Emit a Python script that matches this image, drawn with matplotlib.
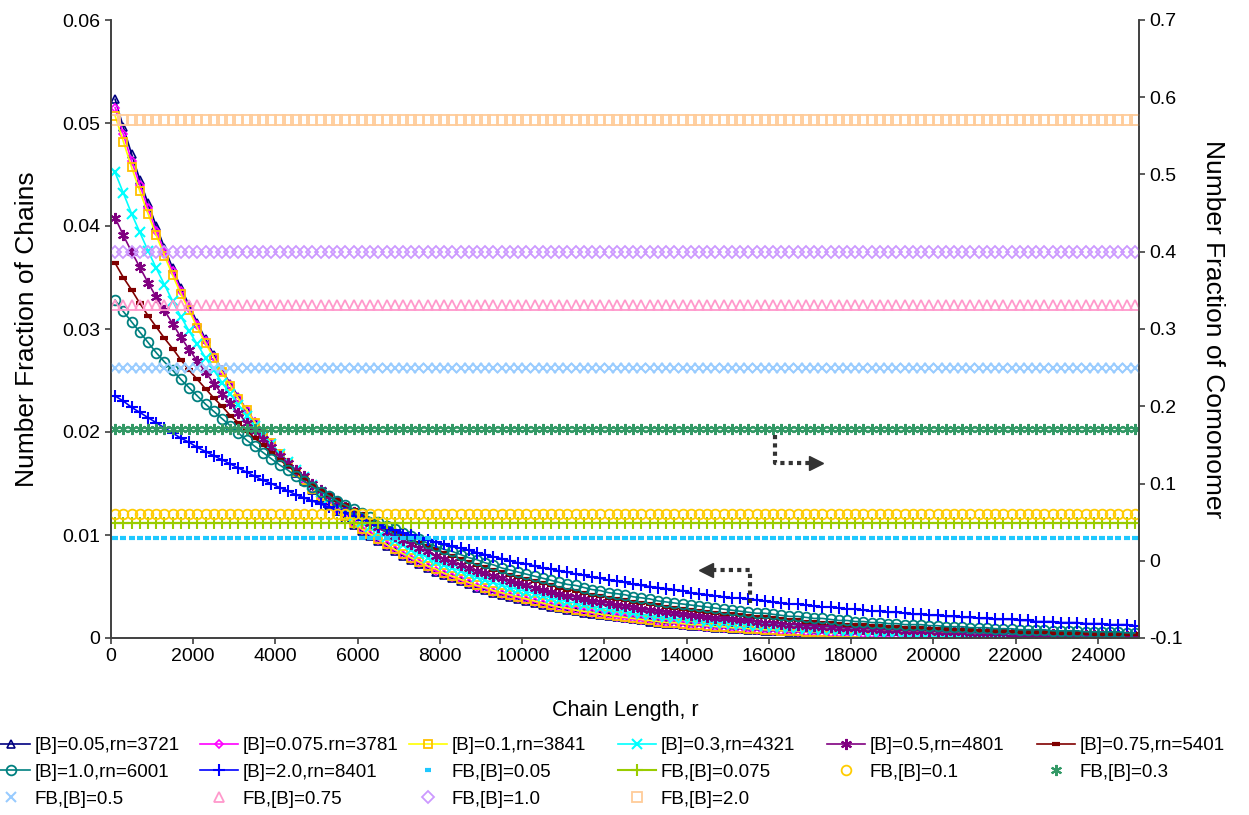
import matplotlib
matplotlib.use("Agg")
import matplotlib.pyplot as plt
import numpy as np

plt.rcParams['font.family'] = ['Liberation Sans', 'DejaVu Sans']
plt.rcParams['axes.unicode_minus'] = False

# chain length grid (one marker every 200)
chain_length = list(range(100, 25000, 200))

nf_005 = [0.0523, 0.0496, 0.0470, 0.0445, 0.0422, 0.0400, 0.0379, 0.0359, 0.0340, 0.0323,
          0.0306, 0.0290, 0.0275, 0.0260, 0.0247, 0.0234, 0.0221, 0.0210, 0.0199, 0.0188,
          0.0179, 0.0169, 0.0160, 0.0152, 0.0144, 0.0136, 0.0129, 0.0123, 0.0116, 0.0110,
          0.0104, 0.0099, 0.0094, 0.0089, 0.0084, 0.0080, 0.0076, 0.0072, 0.0068, 0.0064,
          0.0061, 0.0058, 0.0055, 0.0052, 0.0049, 0.0047, 0.0044, 0.0042, 0.0040, 0.0038,
          0.0036, 0.0034, 0.0032, 0.0030, 0.0029, 0.0027, 0.0026, 0.0024, 0.0023, 0.0022,
          0.0021, 0.0020, 0.0019, 0.0018, 0.0017, 0.0016, 0.0015, 0.0014, 0.0014, 0.0013,
          0.0012, 0.0012, 0.0011, 0.0010, 0.0010, 0.0009, 0.0009, 0.0008, 0.0008, 0.0007,
          0.0007, 0.0007, 0.0006, 0.0006, 0.0006, 0.0005, 0.0005, 0.0005, 0.0005, 0.0004,
          0.0004, 0.0004, 0.0004, 0.0004, 0.0003, 0.0003, 0.0003, 0.0003, 0.0003, 0.0003,
          0.0002, 0.0002, 0.0002, 0.0002, 0.0002, 0.0002, 0.0002, 0.0002, 0.0002, 0.0001,
          0.0001, 0.0001, 0.0001, 0.0001, 0.0001, 0.0001, 0.0001, 0.0001, 0.0001, 0.0001,
          0.0001, 0.0001, 0.0001, 0.0001, 0.0001]

nf_0075 = [0.0515, 0.0489, 0.0463, 0.0440, 0.0417, 0.0395, 0.0375, 0.0356, 0.0337, 0.0320,
           0.0304, 0.0288, 0.0273, 0.0259, 0.0246, 0.0233, 0.0221, 0.0210, 0.0199, 0.0189,
           0.0179, 0.0170, 0.0161, 0.0153, 0.0145, 0.0137, 0.0130, 0.0124, 0.0117, 0.0111,
           0.0105, 0.0100, 0.0095, 0.0090, 0.0085, 0.0081, 0.0077, 0.0073, 0.0069, 0.0065,
           0.0062, 0.0059, 0.0056, 0.0053, 0.0050, 0.0048, 0.0045, 0.0043, 0.0041, 0.0039,
           0.0037, 0.0035, 0.0033, 0.0031, 0.0030, 0.0028, 0.0027, 0.0025, 0.0024, 0.0023,
           0.0022, 0.0020, 0.0019, 0.0018, 0.0017, 0.0017, 0.0016, 0.0015, 0.0014, 0.0013,
           0.0013, 0.0012, 0.0011, 0.0011, 0.0010, 0.0010, 0.0009, 0.0009, 0.0008, 0.0008,
           0.0007, 0.0007, 0.0007, 0.0006, 0.0006, 0.0006, 0.0005, 0.0005, 0.0005, 0.0005,
           0.0004, 0.0004, 0.0004, 0.0004, 0.0004, 0.0003, 0.0003, 0.0003, 0.0003, 0.0003,
           0.0003, 0.0002, 0.0002, 0.0002, 0.0002, 0.0002, 0.0002, 0.0002, 0.0002, 0.0002,
           0.0002, 0.0001, 0.0001, 0.0001, 0.0001, 0.0001, 0.0001, 0.0001, 0.0001, 0.0001,
           0.0001, 0.0001, 0.0001, 0.0001, 0.0001]

nf_01 = [0.0507, 0.0482, 0.0457, 0.0434, 0.0412, 0.0391, 0.0371, 0.0352, 0.0334, 0.0318,
         0.0301, 0.0286, 0.0272, 0.0258, 0.0245, 0.0232, 0.0221, 0.0209, 0.0199, 0.0189,
         0.0179, 0.0170, 0.0161, 0.0153, 0.0145, 0.0138, 0.0131, 0.0124, 0.0118, 0.0112,
         0.0106, 0.0101, 0.0096, 0.0091, 0.0086, 0.0082, 0.0078, 0.0074, 0.0070, 0.0067,
         0.0063, 0.0060, 0.0057, 0.0054, 0.0051, 0.0049, 0.0046, 0.0044, 0.0042, 0.0040,
         0.0038, 0.0036, 0.0034, 0.0032, 0.0030, 0.0029, 0.0027, 0.0026, 0.0025, 0.0023,
         0.0022, 0.0021, 0.0020, 0.0019, 0.0018, 0.0017, 0.0016, 0.0015, 0.0015, 0.0014,
         0.0013, 0.0013, 0.0012, 0.0011, 0.0011, 0.0010, 0.0010, 0.0009, 0.0009, 0.0008,
         0.0008, 0.0007, 0.0007, 0.0007, 0.0006, 0.0006, 0.0006, 0.0005, 0.0005, 0.0005,
         0.0005, 0.0004, 0.0004, 0.0004, 0.0004, 0.0004, 0.0003, 0.0003, 0.0003, 0.0003,
         0.0003, 0.0003, 0.0002, 0.0002, 0.0002, 0.0002, 0.0002, 0.0002, 0.0002, 0.0002,
         0.0002, 0.0002, 0.0001, 0.0001, 0.0001, 0.0001, 0.0001, 0.0001, 0.0001, 0.0001,
         0.0001, 0.0001, 0.0001, 0.0001, 0.0001]

nf_03 = [0.0452, 0.0432, 0.0412, 0.0394, 0.0376, 0.0359, 0.0343, 0.0327, 0.0312, 0.0298,
         0.0285, 0.0272, 0.0260, 0.0248, 0.0237, 0.0226, 0.0216, 0.0206, 0.0197, 0.0188,
         0.0179, 0.0171, 0.0163, 0.0156, 0.0149, 0.0142, 0.0136, 0.0130, 0.0124, 0.0118,
         0.0113, 0.0108, 0.0103, 0.0098, 0.0094, 0.0090, 0.0085, 0.0082, 0.0078, 0.0074,
         0.0071, 0.0068, 0.0065, 0.0062, 0.0059, 0.0056, 0.0054, 0.0051, 0.0049, 0.0047,
         0.0045, 0.0043, 0.0041, 0.0039, 0.0037, 0.0035, 0.0034, 0.0032, 0.0031, 0.0029,
         0.0028, 0.0027, 0.0026, 0.0024, 0.0023, 0.0022, 0.0021, 0.0020, 0.0019, 0.0019,
         0.0018, 0.0017, 0.0016, 0.0015, 0.0015, 0.0014, 0.0013, 0.0013, 0.0012, 0.0012,
         0.0011, 0.0011, 0.0010, 0.0010, 0.0009, 0.0009, 0.0008, 0.0008, 0.0008, 0.0007,
         0.0007, 0.0007, 0.0006, 0.0006, 0.0006, 0.0006, 0.0005, 0.0005, 0.0005, 0.0005,
         0.0004, 0.0004, 0.0004, 0.0004, 0.0004, 0.0004, 0.0003, 0.0003, 0.0003, 0.0003,
         0.0003, 0.0003, 0.0003, 0.0002, 0.0002, 0.0002, 0.0002, 0.0002, 0.0002, 0.0002,
         0.0002, 0.0002, 0.0002, 0.0002, 0.0001]

nf_05 = [0.0408, 0.0391, 0.0375, 0.0360, 0.0345, 0.0331, 0.0318, 0.0305, 0.0292, 0.0280,
         0.0269, 0.0258, 0.0247, 0.0237, 0.0228, 0.0218, 0.0209, 0.0201, 0.0193, 0.0185,
         0.0177, 0.0170, 0.0163, 0.0157, 0.0150, 0.0144, 0.0138, 0.0132, 0.0127, 0.0122,
         0.0117, 0.0112, 0.0108, 0.0103, 0.0099, 0.0095, 0.0091, 0.0087, 0.0084, 0.0080,
         0.0077, 0.0074, 0.0071, 0.0068, 0.0065, 0.0063, 0.0060, 0.0058, 0.0055, 0.0053,
         0.0051, 0.0049, 0.0047, 0.0045, 0.0043, 0.0041, 0.0040, 0.0038, 0.0036, 0.0035,
         0.0034, 0.0032, 0.0031, 0.0030, 0.0028, 0.0027, 0.0026, 0.0025, 0.0024, 0.0023,
         0.0022, 0.0021, 0.0020, 0.0019, 0.0019, 0.0018, 0.0017, 0.0017, 0.0016, 0.0015,
         0.0015, 0.0014, 0.0013, 0.0013, 0.0012, 0.0012, 0.0011, 0.0011, 0.0010, 0.0010,
         0.0010, 0.0009, 0.0009, 0.0008, 0.0008, 0.0008, 0.0007, 0.0007, 0.0007, 0.0007,
         0.0006, 0.0006, 0.0006, 0.0006, 0.0005, 0.0005, 0.0005, 0.0005, 0.0005, 0.0004,
         0.0004, 0.0004, 0.0004, 0.0004, 0.0004, 0.0003, 0.0003, 0.0003, 0.0003, 0.0003,
         0.0003, 0.0003, 0.0003, 0.0002, 0.0002]

nf_075 = [0.0364, 0.0350, 0.0338, 0.0325, 0.0313, 0.0302, 0.0291, 0.0281, 0.0270, 0.0260,
          0.0251, 0.0242, 0.0233, 0.0225, 0.0216, 0.0209, 0.0201, 0.0194, 0.0187, 0.0180,
          0.0173, 0.0167, 0.0161, 0.0155, 0.0149, 0.0144, 0.0139, 0.0134, 0.0129, 0.0124,
          0.0120, 0.0115, 0.0111, 0.0107, 0.0103, 0.0099, 0.0096, 0.0092, 0.0089, 0.0086,
          0.0083, 0.0080, 0.0077, 0.0074, 0.0071, 0.0069, 0.0066, 0.0064, 0.0061, 0.0059,
          0.0057, 0.0055, 0.0053, 0.0051, 0.0049, 0.0047, 0.0046, 0.0044, 0.0042, 0.0041,
          0.0039, 0.0038, 0.0037, 0.0035, 0.0034, 0.0033, 0.0032, 0.0030, 0.0029, 0.0028,
          0.0027, 0.0026, 0.0025, 0.0024, 0.0023, 0.0023, 0.0022, 0.0021, 0.0020, 0.0020,
          0.0019, 0.0018, 0.0017, 0.0017, 0.0016, 0.0016, 0.0015, 0.0015, 0.0014, 0.0013,
          0.0013, 0.0013, 0.0012, 0.0012, 0.0011, 0.0011, 0.0010, 0.0010, 0.0010, 0.0009,
          0.0009, 0.0009, 0.0008, 0.0008, 0.0008, 0.0007, 0.0007, 0.0007, 0.0007, 0.0006,
          0.0006, 0.0006, 0.0006, 0.0006, 0.0005, 0.0005, 0.0005, 0.0005, 0.0005, 0.0004,
          0.0004, 0.0004, 0.0004, 0.0004, 0.0004]

nf_10 = [0.0328, 0.0317, 0.0307, 0.0297, 0.0287, 0.0277, 0.0268, 0.0260, 0.0251, 0.0243,
         0.0235, 0.0227, 0.0220, 0.0213, 0.0206, 0.0199, 0.0192, 0.0186, 0.0180, 0.0174,
         0.0168, 0.0163, 0.0157, 0.0152, 0.0147, 0.0142, 0.0138, 0.0133, 0.0129, 0.0125,
         0.0121, 0.0117, 0.0113, 0.0109, 0.0106, 0.0102, 0.0099, 0.0096, 0.0092, 0.0089,
         0.0086, 0.0084, 0.0081, 0.0078, 0.0076, 0.0073, 0.0071, 0.0068, 0.0066, 0.0064,
         0.0062, 0.0060, 0.0058, 0.0056, 0.0054, 0.0052, 0.0051, 0.0049, 0.0047, 0.0046,
         0.0044, 0.0043, 0.0042, 0.0040, 0.0039, 0.0038, 0.0036, 0.0035, 0.0034, 0.0033,
         0.0032, 0.0031, 0.0030, 0.0029, 0.0028, 0.0027, 0.0026, 0.0025, 0.0024, 0.0024,
         0.0023, 0.0022, 0.0021, 0.0021, 0.0020, 0.0019, 0.0019, 0.0018, 0.0017, 0.0017,
         0.0016, 0.0016, 0.0015, 0.0015, 0.0014, 0.0014, 0.0013, 0.0013, 0.0013, 0.0012,
         0.0012, 0.0011, 0.0011, 0.0011, 0.0010, 0.0010, 0.0010, 0.0009, 0.0009, 0.0009,
         0.0008, 0.0008, 0.0008, 0.0008, 0.0007, 0.0007, 0.0007, 0.0007, 0.0006, 0.0006,
         0.0006, 0.0006, 0.0006, 0.0005, 0.0005]

nf_20 = [0.0235, 0.0230, 0.0224, 0.0219, 0.0214, 0.0209, 0.0204, 0.0199, 0.0194, 0.0190,
         0.0185, 0.0181, 0.0177, 0.0173, 0.0169, 0.0165, 0.0161, 0.0157, 0.0153, 0.0150,
         0.0146, 0.0143, 0.0139, 0.0136, 0.0133, 0.0130, 0.0127, 0.0124, 0.0121, 0.0118,
         0.0115, 0.0112, 0.0110, 0.0107, 0.0105, 0.0102, 0.0100, 0.0097, 0.0095, 0.0093,
         0.0091, 0.0089, 0.0087, 0.0085, 0.0083, 0.0081, 0.0079, 0.0077, 0.0075, 0.0073,
         0.0072, 0.0070, 0.0068, 0.0067, 0.0065, 0.0064, 0.0062, 0.0061, 0.0059, 0.0058,
         0.0056, 0.0055, 0.0054, 0.0052, 0.0051, 0.0050, 0.0049, 0.0048, 0.0047, 0.0046,
         0.0044, 0.0043, 0.0042, 0.0041, 0.0040, 0.0039, 0.0039, 0.0038, 0.0037, 0.0036,
         0.0035, 0.0034, 0.0033, 0.0033, 0.0032, 0.0031, 0.0030, 0.0030, 0.0029, 0.0028,
         0.0028, 0.0027, 0.0026, 0.0026, 0.0025, 0.0025, 0.0024, 0.0023, 0.0023, 0.0022,
         0.0022, 0.0021, 0.0021, 0.0020, 0.0020, 0.0019, 0.0019, 0.0018, 0.0018, 0.0018,
         0.0017, 0.0017, 0.0016, 0.0016, 0.0016, 0.0015, 0.0015, 0.0015, 0.0014, 0.0014,
         0.0014, 0.0013, 0.0013, 0.0013, 0.0012]

# comonomer fraction levels (right axis)
fb_labels = ['FB,[B]=0.05', 'FB,[B]=0.075', 'FB,[B]=0.1', 'FB,[B]=0.3',
             'FB,[B]=0.5', 'FB,[B]=0.75', 'FB,[B]=1.0', 'FB,[B]=2.0']
fb_levels = [0.029, 0.049, 0.060, 0.170, 0.249, 0.331, 0.400, 0.571]

curve_labels = ['[B]=0.05,rn=3721', '[B]=0.075.rn=3781', '[B]=0.1,rn=3841',
                '[B]=0.3,rn=4321', '[B]=0.5,rn=4801', '[B]=0.75,rn=5401',
                '[B]=1.0,rn=6001', '[B]=2.0,rn=8401']
curves = [nf_005, nf_0075, nf_01, nf_03, nf_05, nf_075, nf_10, nf_20]

star6 = (6, 2, 0)
curve_styles = [
    dict(color='#000080', marker='^', mfc='none', mec='#000080', ms=6, mew=1.2),
    dict(color='#FF00FF', marker='D', mfc='none', mec='#FF00FF', ms=4.5, mew=1.2),
    dict(color='#FFFF00', marker='s', mfc='none', mec='#FFC000', ms=6, mew=1.3),
    dict(color='#00FFFF', marker='x', mec='#00FFFF', ms=7, mew=1.5),
    dict(color='#800080', marker=star6, mec='#800080', ms=8, mew=1.5),
    dict(color='#800000', marker='_', mec='#800000', ms=6, mew=3),
    dict(color='#008080', marker='o', mfc='none', mec='#008080', ms=7, mew=1.3),
    dict(color='#0000FF', marker='+', mec='#0000FF', ms=8, mew=1.5),
]
fb_styles = [
    dict(color='#1EC8FF', marker='_', ls='none', ms=4.5, mew=3),
    dict(color='#99CC00', marker='+', ls='-', ms=9, mew=1.5),
    dict(color='#FFCC00', marker='o', mfc='none', ls='none', ms=7, mew=1.3),
    dict(color='#339966', marker=star6, ls='none', ms=8, mew=1.5),
    dict(color='#99CCFF', marker='x', ls='none', ms=7, mew=1.5),
    dict(color='#FF99CC', marker='^', mfc='none', ls='none', ms=7, mew=1.3),
    dict(color='#CC99FF', marker='D', mfc='none', ls='none', ms=6, mew=1.3),
    dict(color='#FFCC99', marker='s', mfc='none', ls='none', ms=7, mew=1.3),
]

fig = plt.figure(figsize=(12.49, 8.15), dpi=100)
ax = fig.add_axes([111 / 1249, 177 / 815, 1028 / 1249, 618 / 815])
ax2 = ax.twinx()

handles = {}
for lab, y, st in zip(curve_labels, curves, curve_styles):
    h, = ax.plot(chain_length, y, lw=1.2, label=lab, **st)
    handles[lab] = h

for lab, lev, st in zip(fb_labels, fb_levels, fb_styles):
    h, = ax2.plot(chain_length, np.full(len(chain_length), lev), lw=1.5, label=lab, **st)
    handles[lab] = h

ax.set_xlim(0, 25000)
ax.set_ylim(0, 0.06)
ax2.set_ylim(-0.1, 0.7)
ax.set_xticks(range(0, 25000, 2000))
ax.set_yticks(np.arange(0, 0.061, 0.01))
ax2.set_yticks(np.arange(-0.1, 0.71, 0.1))
ax.set_yticklabels(['0', '0.01', '0.02', '0.03', '0.04', '0.05', '0.06'])
ax2.set_yticklabels(['-0.1', '0', '0.1', '0.2', '0.3', '0.4', '0.5', '0.6', '0.7'])

for a in (ax, ax2):
    a.spines['top'].set_visible(False)
    for s in a.spines.values():
        s.set_color('#404040')
        s.set_linewidth(1.2)
    a.tick_params(labelsize=14, length=4, width=1.2, color='#404040', direction='out')

ax.set_xlabel('Chain Length, r', fontsize=15.5, labelpad=25)
ax.set_ylabel('Number Fraction of Chains', fontsize=19, labelpad=17)
ax2.set_ylabel('Number Fraction of Comonomer', fontsize=19, rotation=-90, labelpad=30)

# dotted elbow arrows pointing to the relevant axis
ac = '#333333'
dots = dict(color=ac, lw=3, ls=(0, (1, 1)), solid_capstyle='butt', zorder=10,
            transform=ax2.transAxes)
ax2.plot([0.646, 0.646, 0.680], [0.329, 0.283, 0.283], **dots)
ax2.plot([0.686], [0.283], marker='>', ms=10, color=ac, zorder=10, transform=ax2.transAxes)
ax2.plot([0.622, 0.622, 0.585], [0.057, 0.110, 0.110], **dots)
ax2.plot([0.579], [0.110], marker='<', ms=10, color=ac, zorder=10, transform=ax2.transAxes)

# legend laid out row by row, six columns
order = curve_labels + fb_labels
col_x = [-8, 200, 409, 618, 827, 1037]
for c in range(6):
    labs = order[c::6]
    fig.legend([handles[l] for l in labs], labs, loc='upper left',
               bbox_to_anchor=(col_x[c] / 1249, 1 - 737 / 815), frameon=False,
               fontsize=13.5, handlelength=2.0, handletextpad=0.25, numpoints=1,
               labelspacing=0.52, borderpad=0, borderaxespad=0)

fig.savefig('out.png', dpi=100)
